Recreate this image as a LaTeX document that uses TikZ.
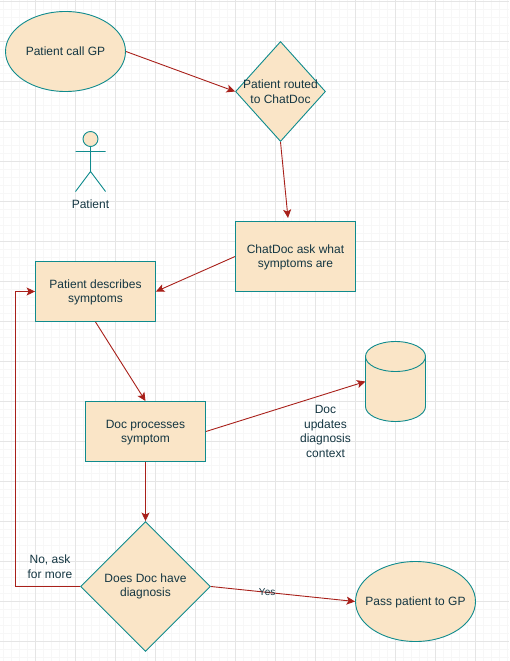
\documentclass[tikz,border=0pt]{standalone}
\usepackage{fontspec}
\setmainfont{Liberation Sans}
\usetikzlibrary{arrows.meta,shapes.geometric}
\definecolor{nodefill}{HTML}{FAE5C7}
\definecolor{nodeline}{HTML}{0F8B8D}
\definecolor{edgeline}{HTML}{A8201A}
\definecolor{inktext}{HTML}{143642}
\tikzset{
	shapebase/.style={draw=nodeline,fill=nodefill,line width=.9pt,inner sep=0pt},
	flowbox/.style={shapebase,rectangle,minimum width=120pt},
	flowell/.style={shapebase,ellipse,minimum width=120pt,minimum height=80pt},
	flowdia/.style={shapebase,diamond},
	plain/.style={text=inktext,align=center,inner sep=0pt,font=\fontsize{12}{14.5}\selectfont},
	flow/.style={draw=edgeline,line width=.9pt,-{Stealth[length=8.5pt,width=8pt,inset=2pt]}}
}
\begin{document}
\begin{tikzpicture}[x=1pt,y=-1pt]
	\useasboundingbox (0,0) rectangle (509,661);
	% grid
	\foreach \gx in {3.5,11.5,...,507.5} \draw[black!3,line width=1pt] (\gx,0) -- (\gx,661);
	\foreach \gy in {1.5,9.5,...,657.5} \draw[black!3,line width=1pt] (0,\gy) -- (509,\gy);
	\foreach \gx in {35.5,75.5,...,500} \draw[black!10,line width=1pt] (\gx,0) -- (\gx,661);
	\foreach \gy in {1.5,41.5,...,650} \draw[black!10,line width=1pt] (0,\gy) -- (509,\gy);

	\node[flowell,label={[plain]center:Patient call GP}] (call) at (65.5,51.5) {};
	\node[flowdia,minimum width=90pt,minimum height=100pt,label={[plain]center:Patient routed\\to ChatDoc}] (routed) at (280.5,91.5) {};
	\node[flowbox,minimum height=70pt,label={[plain,yshift=-1pt]center:ChatDoc ask what\\symptoms are}] (ask) at (295.5,256.5) {};
	\node[flowbox,minimum height=60pt,label={[plain,yshift=-1pt]center:Patient describes\\symptoms}] (describe) at (95.5,291.5) {};
	\node[flowbox,minimum height=60pt,label={[plain,yshift=-1pt]center:Doc processes\\symptom}] (process) at (145.5,431.5) {};
	\node[flowdia,minimum width=130pt,minimum height=130pt,label={[plain]center:Does Doc have\\diagnosis}] (decide) at (145.5,586.5) {};
	\node[flowell,label={[plain,yshift=-1pt]center:Pass patient to GP}] (pass) at (415.5,601.5) {};

	% actor
	\draw[draw=nodeline,fill=nodefill,line width=.9pt] (90.5,139) circle (7.5);
	\draw[draw=nodeline,line width=.9pt] (90.5,146.5) -- (90.5,171.5) (75.5,151.5) -- (105.5,151.5) (75.5,191.5) -- (90.5,171.5) -- (105.5,191.5);
	\node[plain] (patient) at (90.5,204.5) {Patient};

	% database
	\draw[draw=nodeline,fill=nodefill,line width=.9pt] (365.5,356.5) -- (365.5,406.5) arc[start angle=180,end angle=360,x radius=30,y radius=-15] -- (425.5,356.5) arc[start angle=0,end angle=180,x radius=30,y radius=-15] -- cycle;
	\draw[draw=nodeline,line width=.9pt] (365.5,356.5) arc[start angle=180,end angle=360,x radius=30,y radius=-15];
	\coordinate (store) at (365.5,381.5);
	\coordinate (asktop) at (288,218);

	\node[plain] (updates) at (325.5,431.5) {Doc\\updates\\diagnosis\\context};
	\node[plain] (askmore) at (50,566.5) {No, ask\\for more};

	\draw[flow] (call.east) -- (routed.west);
	\draw[flow] (routed.south) -- (asktop);
	\draw[flow] (ask.west) -- (describe.east);
	\draw[flow] (describe.south) -- (process.north);
	\draw[flow] (process.east) -- (store);
	\draw[flow] (process.south) -- (decide.north);
	\draw[flow] (decide.west) -- (15.5,586.5) -- (15.5,291.5) -- (describe.west);
	\draw[flow] (decide.east) -- node[pos=0.39,text=inktext,inner sep=0pt,font=\fontsize{10}{12}\selectfont] (yes) {Yes} (pass.west);
\end{tikzpicture}
\end{document}
